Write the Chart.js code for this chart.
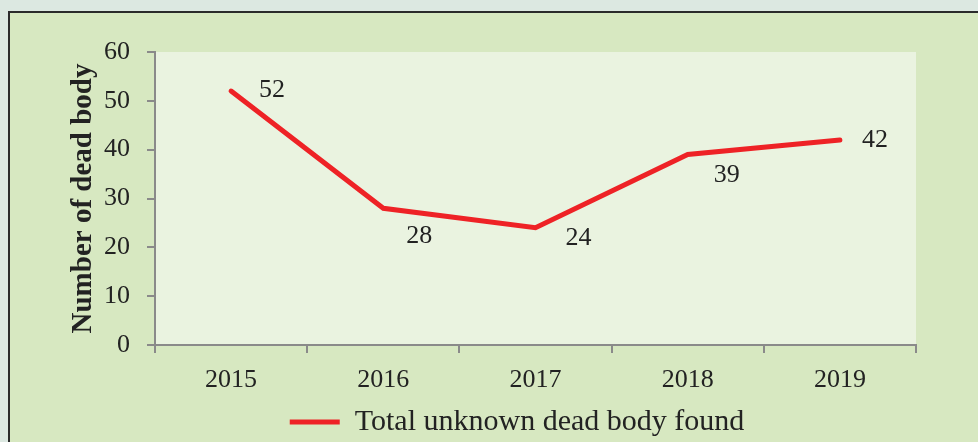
<!DOCTYPE html>
<html>
<head>
<meta charset="utf-8">
<script src="https://cdn.jsdelivr.net/npm/chart.js@4/dist/chart.umd.min.js"></script>
<style>
  html, body { margin: 0; padding: 0; width: 978px; height: 442px; overflow: hidden; background: #dce8e1; }
  #frame { position: absolute; left: 8px; top: 11px; width: 1000px; height: 500px; box-sizing: border-box;
           border: 2px solid #2b2b2b; background: #d7e8c1; }
  #c { position: absolute; left: 0; top: 0; }
</style>
</head>
<body>
<div id="frame"></div>
<canvas id="c" width="1034" height="442"></canvas>
<script>
// ---- data ----
const categories = ["2015", "2016", "2017", "2018", "2019"];
const deadBodies = [52, 28, 24, 39, 42];
const seriesName = "Total unknown dead body found";
const yTitle = "Number of dead body";
const yMin = 0, yMax = 60, yStep = 10;

// ---- presentation ----
const labelOffsets = [[41, -1], [36, 28], [43, 10], [39, 21], [35, 0]];
const serif = "'Liberation Serif', 'Times New Roman', serif";
const lineRed = "#ee2226";
const axisGray = "#8a8a8a";

const plotBg = {
  id: 'plotBg',
  beforeDraw(chart) {
    const a = chart.chartArea, ctx = chart.ctx;
    ctx.save();
    ctx.fillStyle = '#eaf3e0';
    ctx.fillRect(a.left, a.top, a.right - a.left, a.bottom - a.top);
    ctx.restore();
  }
};

const valueLabels = {
  id: 'valueLabels',
  afterDatasetsDraw(chart) {
    const ctx = chart.ctx;
    const meta = chart.getDatasetMeta(0);
    ctx.save();
    ctx.font = "26px " + serif;
    ctx.fillStyle = "#222";
    ctx.textAlign = "center";
    ctx.textBaseline = "middle";
    meta.data.forEach((pt, i) => {
      const off = labelOffsets[i];
      ctx.fillText(String(chart.data.datasets[0].data[i]), pt.x + off[0], pt.y + off[1]);
    });
    ctx.restore();
  }
};

Chart.defaults.color = "#222";
Chart.defaults.font.family = serif;

new Chart(document.getElementById('c'), {
  type: 'line',
  data: {
    labels: categories,
    datasets: [{
      label: seriesName,
      data: deadBodies,
      borderColor: lineRed,
      backgroundColor: lineRed,
      borderWidth: 5,
      borderCapStyle: 'round',
      borderJoinStyle: 'miter',
      pointRadius: 0,
      pointHoverRadius: 0,
      tension: 0,
      fill: false,
      yAxisID: 'y'
    }]
  },
  options: {
    responsive: false,
    animation: false,
    devicePixelRatio: 1,
    events: [],
    layout: { padding: { left: 0, right: 0, top: 52, bottom: 0 } },
    scales: {
      x: {
        type: 'category',
        offset: true,
        grid: { offset: true, drawOnChartArea: false, drawTicks: true, tickLength: 8, color: axisGray, lineWidth: 2 },
        border: { display: true, color: axisGray, width: 2 },
        ticks: { font: { size: 26, family: serif }, color: '#222', padding: 12, maxRotation: 0 },
        afterFit(scale) { scale.height = 56; }
      },
      y: {
        position: 'left',
        min: yMin, max: yMax,
        grid: { drawOnChartArea: false, drawTicks: true, tickLength: 8, color: axisGray, lineWidth: 2 },
        border: { display: true, color: axisGray, width: 2 },
        ticks: { stepSize: yStep, font: { size: 26, family: serif }, color: '#222', padding: 17 },
        title: {
          display: true, text: yTitle, color: '#222',
          font: { size: 29, weight: 'bold', family: serif },
          padding: { top: 66, bottom: 0 }
        },
        afterFit(scale) { scale.width = 155; }
      },
      spacer: {
        type: 'linear',
        position: 'right',
        display: true,
        grid: { display: false, drawTicks: false },
        border: { display: false },
        ticks: { display: false },
        title: { display: false },
        afterFit(scale) { scale.width = 118; }
      }
    },
    plugins: {
      legend: {
        position: 'bottom',
        maxHeight: 41,
        labels: {
          usePointStyle: true,
          pointStyle: 'line',
          pointStyleWidth: 50,
          padding: 6,
          color: '#222',
          font: { size: 30, family: serif }
        }
      },
      tooltip: { enabled: false },
      title: { display: false }
    }
  },
  plugins: [plotBg, valueLabels]
});
</script>
</body>
</html>
